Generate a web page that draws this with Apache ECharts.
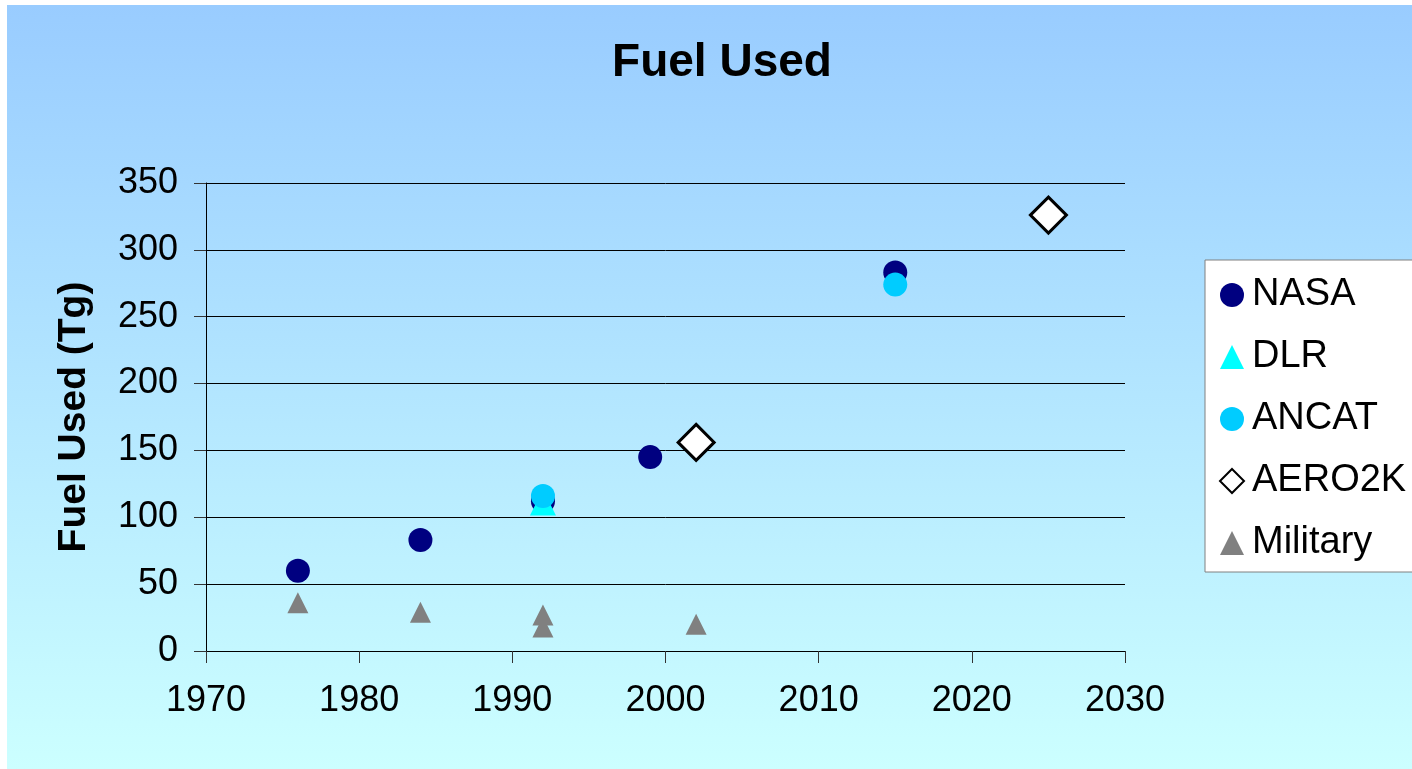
<!DOCTYPE html>
<html>
<head>
<meta charset="utf-8">
<title>Fuel Used</title>
<script src="https://cdn.jsdelivr.net/npm/echarts@6/dist/echarts.min.js"></script>
<style>
  html, body { margin: 0; padding: 0; background: #fff; }
  #chart { width: 1412px; height: 769px; }
</style>
</head>
<body>
<div id="chart"></div>
<script>
// data: [year, Tg]
const nasa = [[1976, 60], [1984, 83], [1992, 112], [1999, 145], [2015, 283]]
const dlr = [[1992, 111]]
const ancat = [[1992, 116], [2015, 274]]
const aero2k = [[2002, 156], [2025, 326]]
const military = [[1976, 36], [1984, 29], [1992, 27], [1992, 18], [2002, 20]]

const xTicks = [1970, 1980, 1990, 2000, 2010, 2020, 2030]
const yTicks = [0, 50, 100, 150, 200, 250, 300, 350]

const font = '"Liberation Sans", Arial, sans-serif'

let mycharts = echarts.init(document.getElementById('chart'))
mycharts.setOption({
  animation: false,
  textStyle: { fontFamily: font },
  //背景渐变
  graphic: [
    {
      type: 'rect',
      z: -10,
      silent: true,
      shape: { x: 7, y: 5, width: 1405, height: 764 },
      style: {
        fill: {
          type: 'linear', x: 0, y: 0, x2: 0, y2: 1,
          colorStops: [
            { offset: 0, color: '#99ccff' },
            { offset: 1, color: '#ccffff' },
          ],
        },
      },
    },
  ],
  title: {
    text: 'Fuel Used',
    left: 717,
    top: 35,
    textAlign: 'center',
    textStyle: { fontFamily: font, fontSize: 46, fontWeight: 'bold', color: '#000' },
  },
  legend: {
    orient: 'vertical',
    left: 1205,
    top: 260,
    padding: [16, 60, 10, 14],
    itemGap: 24,
    itemWidth: 24,
    itemHeight: 24,
    backgroundColor: '#fff',
    borderColor: '#808080',
    borderWidth: 1,
    textStyle: { fontFamily: font, fontSize: 38, color: '#000', padding: [0, 0, 0, 3] },
    data: ['NASA', 'DLR', 'ANCAT', 'AERO2K', 'Military'],
  },
  grid: {
    left: 206,
    right: 287,
    top: 183,
    bottom: 118,
  },
  xAxis: {
    type: 'value',
    min: xTicks[0],
    max: xTicks[xTicks.length - 1],
    interval: 10,
    splitLine: { show: false },
    axisLine: { show: true, onZero: false, lineStyle: { color: '#000', width: 1 } },
    axisTick: { show: true, inside: false, length: 12, lineStyle: { color: '#333' } },
    axisLabel: {
      fontFamily: font,
      fontSize: 36,
      color: '#000',
      margin: 32,
      formatter: (v) => String(v),
    },
  },
  yAxis: {
    type: 'value',
    min: yTicks[0],
    max: yTicks[yTicks.length - 1],
    interval: 50,
    name: 'Fuel Used (Tg)',
    nameLocation: 'middle',
    nameGap: 112,
    nameTextStyle: { fontFamily: font, fontSize: 39, fontWeight: 'bold', color: '#000' },
    splitLine: { show: true, lineStyle: { color: '#000', width: 1 } },
    axisLine: { show: true, lineStyle: { color: '#000', width: 1 } },
    axisTick: { show: true, inside: false, length: 12, lineStyle: { color: '#333' } },
    axisLabel: { fontFamily: font, fontSize: 36, color: '#000', margin: 28 },
  },
  series: [
    {
      name: 'NASA',
      type: 'scatter',
      symbol: 'circle',
      symbolSize: 24,
      itemStyle: { color: '#000080', opacity: 1 },
      data: nasa,
    },
    {
      name: 'DLR',
      type: 'scatter',
      symbol: 'triangle',
      symbolSize: 26,
      itemStyle: { color: '#00ffff', opacity: 1 },
      data: dlr,
    },
    {
      name: 'ANCAT',
      type: 'scatter',
      symbol: 'circle',
      symbolSize: 24,
      itemStyle: { color: '#00ccff', opacity: 1 },
      data: ancat,
    },
    {
      name: 'AERO2K',
      type: 'scatter',
      symbol: 'diamond',
      symbolSize: 36,
      itemStyle: { color: '#fff', borderColor: '#000', borderWidth: 3, opacity: 1 },
      data: aero2k,
    },
    {
      name: 'Military',
      type: 'scatter',
      symbol: 'triangle',
      symbolSize: 21,
      itemStyle: { color: '#808080', opacity: 1 },
      data: military,
    },
  ],
})
</script>
</body>
</html>
